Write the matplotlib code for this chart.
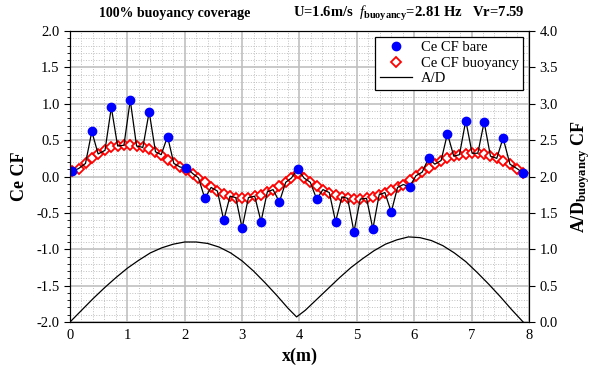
import numpy as np
import matplotlib
matplotlib.use("Agg")
from matplotlib import pyplot as plt
from matplotlib.ticker import MultipleLocator, FormatStrFormatter

plt.rcParams['font.family'] = ['Liberation Serif', 'DejaVu Serif']
plt.rcParams['mathtext.fontset'] = 'custom'
plt.rcParams['mathtext.rm'] = 'Liberation Serif'
plt.rcParams['mathtext.it'] = 'Liberation Serif:italic'
plt.rcParams['mathtext.bf'] = 'Liberation Serif:bold'
plt.rcParams['axes.unicode_minus'] = False

# positions along the riser (m)
x_pos = [0.04, 0.15, 0.27, 0.38, 0.49, 0.61, 0.72, 0.83, 0.94, 1.05, 1.16, 1.27,
         1.38, 1.49, 1.59, 1.70, 1.81, 1.92, 2.03, 2.14, 2.24, 2.35, 2.46, 2.57,
         2.68, 2.79, 2.89, 3.00, 3.11, 3.22, 3.33, 3.44, 3.54, 3.65, 3.76, 3.86,
         3.97, 4.08, 4.19, 4.30, 4.41, 4.52, 4.63, 4.74, 4.84, 4.95, 5.06, 5.17,
         5.28, 5.39, 5.49, 5.60, 5.71, 5.81, 5.92, 6.03, 6.14, 6.25, 6.36, 6.47,
         6.58, 6.69, 6.79, 6.90, 7.01, 7.11, 7.22, 7.33, 7.44, 7.55, 7.67, 7.79, 7.90]
ce_buoy = [0.07, 0.11, 0.18, 0.25, 0.31, 0.36, 0.40, 0.42, 0.43, 0.43, 0.42, 0.40,
           0.38, 0.34, 0.30, 0.23, 0.18, 0.13, 0.09, 0.04, -0.02, -0.08, -0.15, -0.20,
           -0.24, -0.27, -0.29, -0.30, -0.29, -0.27, -0.25, -0.21, -0.18, -0.13, -0.08, -0.02,
           0.05, -0.02, -0.08, -0.13, -0.18, -0.22, -0.25, -0.28, -0.30, -0.31, -0.31, -0.30,
           -0.28, -0.25, -0.22, -0.19, -0.15, -0.11, -0.05, 0.01, 0.06, 0.12, 0.17, 0.22,
           0.25, 0.28, 0.30, 0.31, 0.32, 0.32, 0.31, 0.28, 0.25, 0.22, 0.17, 0.11, 0.05]
# bare cylinder values, at every third position
ce_bare = [0.07, 0.62, 0.95, 1.05, 0.89, 0.55, 0.12, -0.30, -0.60, -0.71, -0.62, -0.35,
           0.10, -0.31, -0.62, -0.76, -0.72, -0.49, -0.14, 0.25, 0.59, 0.77, 0.75, 0.53, 0.05]

# A/D envelope (right axis)
x_ad = [0.0, 0.2, 0.4, 0.6, 0.8, 1.0, 1.2, 1.4, 1.6, 1.8, 2.0, 2.2, 2.4, 2.6, 2.8,
        3.0, 3.2, 3.4, 3.6, 3.8, 3.95, 4.1, 4.3, 4.5, 4.7, 4.9, 5.1, 5.3, 5.5, 5.7,
        5.9, 6.1, 6.3, 6.5, 6.7, 6.9, 7.1, 7.3, 7.5, 7.7, 7.9]
ad = [0.0, 0.16, 0.32, 0.47, 0.61, 0.74, 0.85, 0.95, 1.02, 1.07, 1.10, 1.10, 1.08,
      1.03, 0.95, 0.84, 0.70, 0.54, 0.37, 0.19, 0.07, 0.16, 0.31, 0.46, 0.61, 0.75,
      0.87, 0.98, 1.07, 1.13, 1.17, 1.16, 1.12, 1.05, 0.95, 0.83, 0.68, 0.52, 0.35,
      0.17, 0.0]

x_pos = np.array(x_pos)
ce_line = np.array(ce_buoy)
ce_line[::3] = ce_bare

fig = plt.figure(figsize=(6.01, 3.74), dpi=100)
ax = fig.add_axes([0.1165, 0.139, 0.7635, 0.778])

ax.plot(x_pos, ce_buoy, ls='none', marker='D', ms=5.3, mfc='white', mec='red', mew=1.3,
        label='Ce CF buoyancy', zorder=3)
ax.plot(x_pos, ce_line, color='black', lw=0.9, zorder=4)
ax.plot(x_pos[::3], ce_bare, ls='none', marker='o', ms=6, color='blue',
        label='Ce CF bare', zorder=5)

ax.set_xlim(0, 8)
ax.set_ylim(-2, 2)
ax.xaxis.set_major_locator(MultipleLocator(1))
ax.xaxis.set_minor_locator(MultipleLocator(0.2))
ax.yaxis.set_major_locator(MultipleLocator(0.5))
ax.yaxis.set_minor_locator(MultipleLocator(0.1))
ax.yaxis.set_major_formatter(FormatStrFormatter('%.1f'))
ax.grid(which='major', color='#c0c0c0', lw=1.2, ls='-')
ax.grid(which='minor', color='#c0c0c0', lw=0.7, ls=':')
ax.set_axisbelow(True)
ax.tick_params(axis='y', which='major', direction='out', length=4, labelsize=10.5)
ax.tick_params(axis='y', which='minor', direction='out', length=2)
ax.tick_params(axis='x', which='both', length=0, labelsize=10.5, pad=5)
ax.set_xlabel('x(m)', fontsize=13, fontweight='bold', labelpad=4)
ax.set_ylabel('Ce CF', fontsize=13, fontweight='bold', labelpad=6)

ax2 = ax.twinx()
ax2.plot(x_ad, ad, color='black', lw=0.9, label='A/D')
ax2.set_ylim(0, 4)
ax2.yaxis.set_major_locator(MultipleLocator(0.5))
ax2.yaxis.set_major_formatter(FormatStrFormatter('%.1f'))
ax2.tick_params(axis='y', which='major', direction='out', length=4, labelsize=10.5)
ax2.set_ylabel(r'A/D$_{\mathbf{buoyancy}}$ CF', fontsize=13, fontweight='bold', labelpad=8)

h1, l1 = ax.get_legend_handles_labels()
h2, l2 = ax2.get_legend_handles_labels()
handles = [h1[1], h1[0], h2[0]]
labels = [l1[1], l1[0], l2[0]]
leg = ax2.legend(handles, labels, loc='upper right', fontsize=10.5, fancybox=False,
                 framealpha=1, edgecolor='black', borderaxespad=0.4,
                 handlelength=2.2, handletextpad=0.6, labelspacing=0.15, borderpad=0.3)
leg.get_frame().set_linewidth(0.9)

fig.text(0.165, 0.955, '100% buoyancy coverage', fontsize=10, fontweight='bold')
fig.text(0.488, 0.955, r'U=1.6m/s  $\mathit{f}_{\mathbf{buoyancy}}$=2.81 Hz   Vr=7.59',
         fontsize=10.5, fontweight='bold')

fig.savefig('out.png', dpi=100)
